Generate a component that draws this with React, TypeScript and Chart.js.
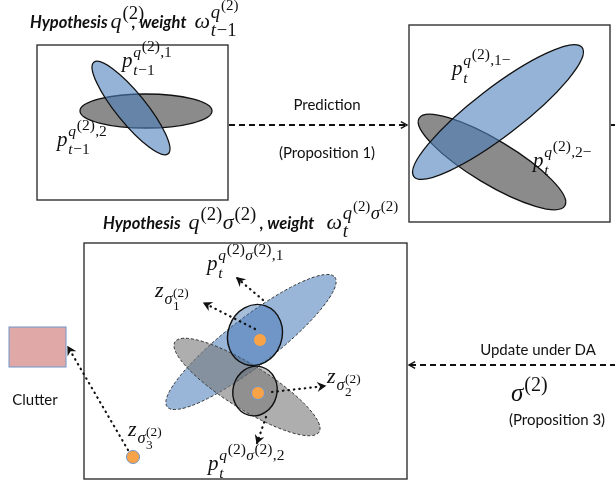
import React, { useEffect, useRef } from 'react';
import { Chart, registerables } from 'chart.js';
Chart.register(...registerables);

const W = 615;
const H = 495;

// ---- diagram content (coordinates are in the chart's own value space 0..615 x 0..495) ----
const panels: number[][] = [
  [37, 45, 228, 200],
  [409, 25, 610, 222],
  [84, 243, 407, 479],
];
const clutterRect: number[] = [9, 327, 66, 367];

// [cx, cy, rx, ry, angleDeg]
const ellipseGeom: number[][] = [
  [146, 111, 66, 17, 0],      // box1 grey
  [131, 108, 59, 15, 51],     // box1 blue
  [492, 162, 85, 22, 31],     // box2 grey
  [498, 112, 106, 24, -37.5], // box2 blue
  [251, 342, 106, 24, -37.7], // box3 blue dashed
  [247, 387, 85, 22, 32],     // box3 grey dashed
  [255, 335, 27, 31, 20],     // box3 inner blue
  [255, 391, 22, 25, 15],     // box3 inner grey
];
const ellipseKind: string[] = ['grey', 'blue', 'grey', 'blue', 'blueD', 'greyD', 'innerB', 'innerG'];

const measurementX: number[] = [260, 258, 133];
const measurementY: number[] = [340, 393, 457];

// dashed arrows [x1,y1,x2,y2,head]
const dashedArrows: number[][] = [
  [229, 125, 407, 125, 1],
  [611, 125, 616, 125, 0],
  [616, 365, 409, 365, 1],
];
// dotted arrows
const dottedArrows: number[][] = [
  [255, 329, 204, 303],
  [263, 300, 237, 278],
  [272, 392, 325, 386],
  [266, 417, 257, 443],
  [128, 450, 68, 347],
];

const sansLabels: [string, number, number][] = [
  ['Prediction', 327, 105],
  ['(Proposition 1)', 327, 153],
  ['Update under DA', 538, 350],
  ['(Proposition 3)', 557, 420],
  ['Clutter', 35, 400],
];

type Run = { t?: string; f?: string; sup?: Run[]; sub?: Run[]; gap?: number };
const I = (t: string): Run => ({ t, f: 'i' });
const R = (t: string): Run => ({ t, f: 'r' });
const B = (t: string): Run => ({ t, f: 'b' });
const q2: Run[] = [I('q'), { sup: [R('(2)')] }];
const s2: Run[] = [I('σ'), { sup: [R('(2)')] }];

// [x, baseline y, size, level-1 ratio, level-2 ratio, runs]
const mathLabels: [number, number, number, number, number, Run[]][] = [
  [30, 28, 22, 0.85, 0.8, [B('Hypothesis'), { gap: 3 }, I('q'), { sup: [R('(2)')] }, { gap: -13 }, B(', weight'), { gap: 8 }, I('ω'), { sup: [...q2], sub: [I('t'), R('−1')] }]],
  [103, 229, 22, 0.85, 0.8, [B('Hypothesis'), { gap: 8 }, ...q2, ...s2, { gap: 3 }, B(', weight'), { gap: 12 }, I('ω'), { sup: [...q2, ...s2], sub: [I('t')] }]],
  [122, 67, 21, 0.74, 1, [I('p'), { sup: [...q2, R(',1')], sub: [I('t'), R('−1')] }]],
  [57, 146, 21, 0.74, 1, [I('p'), { sup: [...q2, R(',2')], sub: [I('t'), R('−1')] }]],
  [452, 75, 21, 0.74, 1, [I('p'), { sup: [...q2, R(',1−')], sub: [I('t')] }]],
  [533, 167, 21, 0.74, 1, [I('p'), { sup: [...q2, R(',2−')], sub: [I('t')] }]],
  [207, 270, 21, 0.74, 1, [I('p'), { sup: [...q2, ...s2, R(',1')], sub: [I('t')] }]],
  [155, 297, 22, 0.74, 0.82, [I('z'), { sub: [I('σ'), { sup: [R('(2)')], sub: [R('1')] }] }]],
  [327, 383, 22, 0.74, 0.82, [I('z'), { sub: [I('σ'), { sup: [R('(2)')], sub: [R('2')] }] }]],
  [208, 470, 21, 0.74, 1, [I('p'), { sup: [...q2, ...s2, R(',2')], sub: [I('t')] }]],
  [128, 436, 22, 0.74, 0.82, [I('z'), { sub: [I('σ'), { sup: [R('(2)')], sub: [R('3')] }] }]],
  [511, 401, 25, 0.8, 0.8, [...s2]],
];

const BLUE = 'rgba(79,129,189,0.6)';
const GREY = '#8b8b8b';

function fontFor(f: string | undefined, size: number) {
  if (f === 'b') return `italic bold 16.5px Lato, "Open Sans", sans-serif`;
  if (f === 'i') return `italic ${size}px "Liberation Serif", "DejaVu Serif", serif`;
  return `${size}px "Liberation Serif", "DejaVu Serif", serif`;
}

function drawRuns(ctx: CanvasRenderingContext2D, runs: Run[], x: number, y: number, size: number, ratios: number[]): number {
  let cx = x;
  for (const r of runs) {
    if (r.gap !== undefined) {
      cx += r.gap;
    } else if (r.t !== undefined) {
      ctx.font = fontFor(r.f, size);
      ctx.fillText(r.t, cx, y);
      cx += ctx.measureText(r.t).width + (r.f === 'i' ? size * 0.04 : 0);
    } else {
      const sz = size * ratios[0];
      const rest = ratios.length > 1 ? ratios.slice(1) : ratios;
      const both = !!(r.sup && r.sub);
      let e1 = cx, e2 = cx;
      if (r.sup) e1 = drawRuns(ctx, r.sup, cx, y - size * (both ? 0.47 : 0.42), sz, rest);
      if (r.sub) e2 = drawRuns(ctx, r.sub, cx, y + size * (both ? 0.36 : 0.33), sz, rest);
      cx = Math.max(e1, e2) + size * 0.02;
    }
  }
  return cx;
}

const diagramPlugin = {
  id: 'diagram',
  beforeDatasetsDraw(chart: any) {
    const ctx: CanvasRenderingContext2D = chart.ctx;
    const xs = chart.scales.x, ys = chart.scales.y;
    const X = (v: number) => xs.getPixelForValue(v);
    const Y = (v: number) => ys.getPixelForValue(v);
    const sx = Math.abs(X(1) - X(0)), sy = Math.abs(Y(1) - Y(0));
    ctx.save();
    ctx.fillStyle = '#ffffff';
    ctx.fillRect(0, 0, chart.width, chart.height);
    // panels
    ctx.strokeStyle = '#333333';
    ctx.lineWidth = 1.4;
    for (const p of panels) {
      ctx.strokeRect(X(p[0]), Y(p[1]), X(p[2]) - X(p[0]), Y(p[3]) - Y(p[1]));
    }
    // clutter rect
    ctx.fillStyle = '#e0a9a7';
    ctx.fillRect(X(clutterRect[0]), Y(clutterRect[1]), X(clutterRect[2]) - X(clutterRect[0]), Y(clutterRect[3]) - Y(clutterRect[1]));
    ctx.strokeStyle = '#7195c9';
    ctx.lineWidth = 1;
    ctx.strokeRect(X(clutterRect[0]), Y(clutterRect[1]), X(clutterRect[2]) - X(clutterRect[0]), Y(clutterRect[3]) - Y(clutterRect[1]));
    // ellipses
    ellipseGeom.forEach((e, i) => {
      const k = ellipseKind[i];
      ctx.beginPath();
      ctx.ellipse(X(e[0]), Y(e[1]), e[2] * sx, e[3] * sy, (e[4] * Math.PI) / 180, 0, Math.PI * 2);
      let fill = GREY, dash: number[] = [], lw = 1.3, stroke = '#111';
      if (k === 'blue') fill = BLUE;
      if (k === 'blueD') { fill = 'rgba(79,129,189,0.58)'; dash = [3, 2]; lw = 1; stroke = '#333'; }
      if (k === 'greyD') { fill = 'rgba(120,120,120,0.6)'; dash = [3, 2]; lw = 1; stroke = '#333'; }
      if (k === 'innerB') { fill = 'rgba(60,110,175,0.45)'; lw = 1.4; }
      if (k === 'innerG') { fill = 'rgba(90,90,90,0.35)'; lw = 1.4; }
      ctx.fillStyle = fill;
      ctx.fill();
      ctx.setLineDash(dash);
      ctx.lineWidth = lw;
      ctx.strokeStyle = stroke;
      ctx.stroke();
      ctx.setLineDash([]);
    });
    ctx.restore();
  },
  afterDatasetsDraw(chart: any) {
    const ctx: CanvasRenderingContext2D = chart.ctx;
    const xs = chart.scales.x, ys = chart.scales.y;
    const X = (v: number) => xs.getPixelForValue(v);
    const Y = (v: number) => ys.getPixelForValue(v);
    ctx.save();
    const head = (x1: number, y1: number, x2: number, y2: number, len: number, filled: boolean) => {
      const a = Math.atan2(y2 - y1, x2 - x1);
      ctx.setLineDash([]);
      ctx.beginPath();
      ctx.moveTo(x2 - len * Math.cos(a - 0.5), y2 - len * Math.sin(a - 0.5));
      ctx.lineTo(x2, y2);
      ctx.lineTo(x2 - len * Math.cos(a + 0.5), y2 - len * Math.sin(a + 0.5));
      if (filled) { ctx.lineTo(x2 - len * 0.6 * Math.cos(a), y2 - len * 0.6 * Math.sin(a)); ctx.closePath(); ctx.fill(); }
      ctx.stroke();
    };
    ctx.strokeStyle = '#111';
    ctx.fillStyle = '#111';
    // dashed arrows
    for (const d of dashedArrows) {
      ctx.lineWidth = 2;
      ctx.setLineDash([6, 4]);
      ctx.beginPath();
      ctx.moveTo(X(d[0]), Y(d[1]));
      ctx.lineTo(X(d[2]), Y(d[3]));
      ctx.stroke();
      if (d[4]) { ctx.lineWidth = 1.4; head(X(d[0]), Y(d[1]), X(d[2]), Y(d[3]), 7, false); }
    }
    // dotted arrows
    for (const d of dottedArrows) {
      ctx.lineWidth = 2.2;
      ctx.lineCap = 'round';
      ctx.setLineDash([0.5, 5]);
      ctx.beginPath();
      ctx.moveTo(X(d[0]), Y(d[1]));
      ctx.lineTo(X(d[2]), Y(d[3]));
      ctx.stroke();
      ctx.lineCap = 'butt';
      ctx.lineWidth = 1.3;
      head(X(d[0]), Y(d[1]), X(d[2]), Y(d[3]), 7, true);
    }
    ctx.setLineDash([]);
    // sans labels
    ctx.fillStyle = '#111';
    ctx.textAlign = 'center';
    ctx.textBaseline = 'middle';
    ctx.font = '15px Lato, "Open Sans", sans-serif';
    for (const [t, x, y] of sansLabels) ctx.fillText(t, X(x), Y(y));
    // math labels
    ctx.textAlign = 'left';
    ctx.textBaseline = 'alphabetic';
    for (const [x, y, size, r1, r2, runs] of mathLabels) drawRuns(ctx, runs, X(x), Y(y), size, [r1, r2]);
    ctx.restore();
  },
};

export default function App() {
  const ref = useRef<HTMLCanvasElement>(null);
  useEffect(() => {
    document.body.style.margin = '0';
    const chart = new Chart(ref.current as HTMLCanvasElement, {
      type: 'scatter',
      data: {
        datasets: [
          {
            label: 'measurements',
            data: measurementX.map((x, i) => ({ x, y: measurementY[i] })),
            pointRadius: 6.5,
            pointBackgroundColor: '#f8a347',
            pointBorderColor: '#6f95c9',
            pointBorderWidth: 1,
          },
        ],
      },
      options: {
        responsive: false,
        animation: false,
        events: [],
        layout: { padding: 0, autoPadding: false },
        scales: {
          x: { type: 'linear', min: 0, max: W, display: false },
          y: { type: 'linear', min: 0, max: H, reverse: true, display: false },
        },
        plugins: { legend: { display: false }, tooltip: { enabled: false } },
      },
      plugins: [diagramPlugin],
    });
    return () => chart.destroy();
  }, []);
  return (
    <div style={{ position: 'fixed', left: 0, top: 0, width: W, height: H, background: '#fff' }}>
      <canvas ref={ref} width={W} height={H} style={{ width: W, height: H, display: 'block' }} />
    </div>
  );
}
